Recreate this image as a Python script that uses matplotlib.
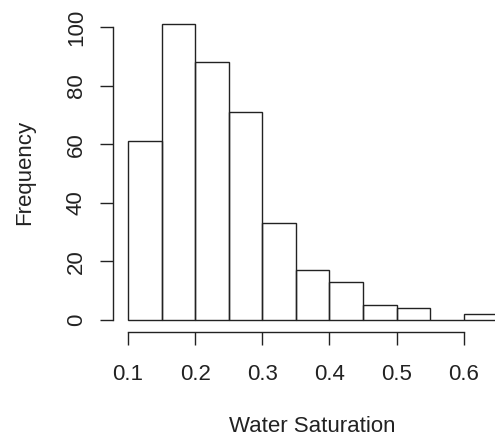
import matplotlib
matplotlib.use("Agg")
import matplotlib.pyplot as plt

# Histogramme de la saturation en eau (style R)
bin_edges = [0.10, 0.15, 0.20, 0.25, 0.30, 0.35, 0.40, 0.45, 0.50, 0.55, 0.60, 0.65]
counts = [61, 101, 88, 71, 33, 17, 13, 5, 4, 0, 2]
x_ticks = [0.1, 0.2, 0.3, 0.4, 0.5, 0.6]
y_ticks = [0, 20, 40, 60, 80, 100]

plt.rcParams["font.family"] = ["Liberation Sans", "DejaVu Sans"]
plt.rcParams["font.size"] = 16

fig = plt.figure(figsize=(4.95, 4.43), dpi=100)
ax = fig.add_axes([0.2287, 0.2510, 0.8057, 0.7214])

widths = [bin_edges[i + 1] - bin_edges[i] for i in range(len(counts))]
ax.bar(bin_edges[:-1], counts, width=widths, align="edge",
       facecolor="none", edgecolor="#222222", linewidth=1.0)

ax.set_xlim(0.078, 0.672)
ax.set_ylim(-4.04, 105.04)

for side in ["top", "right"]:
    ax.spines[side].set_visible(False)
ax.spines["left"].set_bounds(0, 100)
ax.spines["bottom"].set_bounds(0.1, 0.6)
for side in ["left", "bottom"]:
    ax.spines[side].set_linewidth(1.0)
    ax.spines[side].set_color("#222222")

ax.set_xticks(x_ticks)
ax.set_xticklabels([f"{v:.1f}" for v in x_ticks])
ax.set_yticks(y_ticks)
ax.set_yticklabels([str(v) for v in y_ticks], rotation=90, va="center")
ax.tick_params(direction="out", length=9.5, width=1.0, color="#222222",
               labelcolor="#222222")
ax.tick_params(axis="x", pad=14)
ax.tick_params(axis="y", pad=9.5)

ax.set_xlabel("Water Saturation", labelpad=22, color="#222222")
ax.set_ylabel("Frequency", labelpad=22, color="#222222")

fig.savefig("out.png", dpi=100)
